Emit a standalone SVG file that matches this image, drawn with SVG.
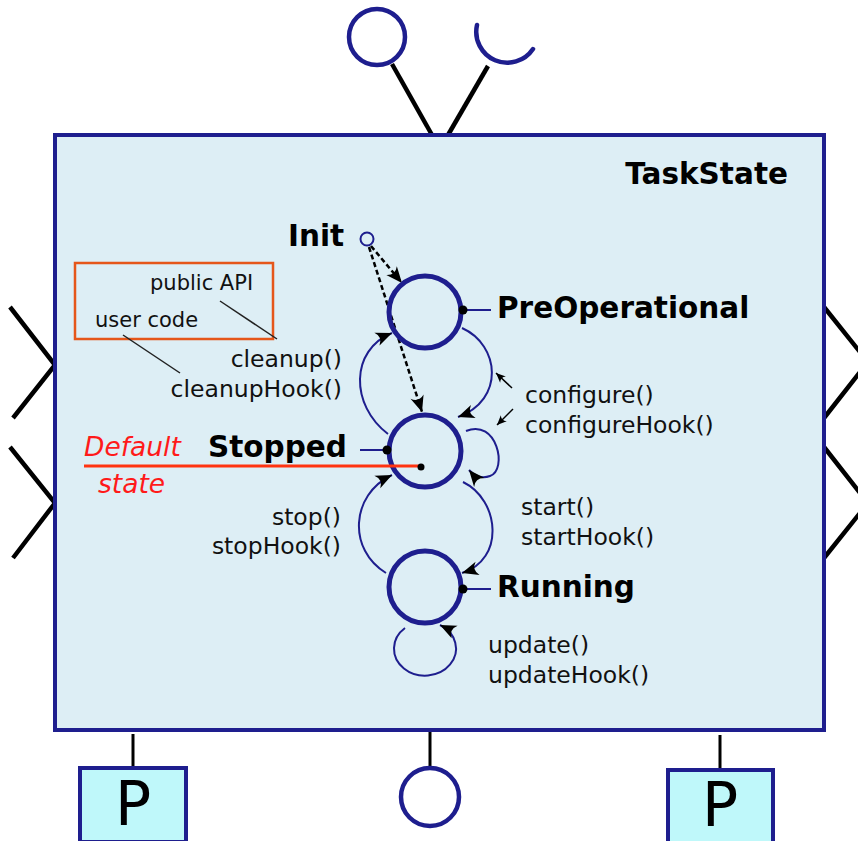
<svg xmlns="http://www.w3.org/2000/svg" width="858" height="841" viewBox="0 0 858 841">
<style>
.port{fill:none;stroke:#000;stroke-width:4.5}
.state{fill:none;stroke:#1e1e8e;stroke-width:5}
.tr{fill:none;stroke:#1e1e8e;stroke-width:2}
.b{font-family:"DejaVu Sans",Verdana,sans-serif;font-weight:bold;font-size:29.5px;fill:#000}
.r{font-family:"DejaVu Sans",Verdana,sans-serif;font-size:23.5px;fill:#111}
.s{font-family:"DejaVu Sans",Verdana,sans-serif;font-size:21px;fill:#111}
.red{font-family:"DejaVu Sans",Verdana,sans-serif;font-style:italic;font-size:26.5px;fill:#ff1a1a}
.P{font-family:"DejaVu Sans",Verdana,sans-serif;font-size:60px;fill:#000}
</style>
<defs>
<marker id="ah" markerUnits="userSpaceOnUse" markerWidth="20" markerHeight="20" viewBox="-14 -7 16 14" refX="0" refY="0" orient="auto" overflow="visible"><path d="M0,0 L-13,-5.5 Q-8,0 -13,5.5 Z" fill="#000"/></marker>
<marker id="sa" markerUnits="userSpaceOnUse" markerWidth="12" markerHeight="12" viewBox="-9 -5 10 10" refX="0" refY="0" orient="auto" overflow="visible"><path d="M0,0 L-8,-3.5 Q-5,0 -8,3.5 Z" fill="#000"/></marker>
</defs>
<g id="ports">
<line class="port" x1="392" y1="64" x2="432" y2="135"/>
<line class="port" x1="488" y1="66" x2="448" y2="135"/>
<circle cx="377" cy="37" r="28" fill="none" stroke="#1e1e8e" stroke-width="4.5"/>
<path d="M477,25 A31 31 0 0 0 533,49" fill="none" stroke="#1e1e8e" stroke-width="4.5" stroke-linecap="round"/>
<polyline class="port" points="10,307 55,365 13,418"/>
<polyline class="port" points="10,447 55,503 13,558"/>
<polyline class="port" points="824,307 868,362 824,418"/>
<polyline class="port" points="824,447 868,503 824,558"/>
<line x1="133" y1="734" x2="133" y2="767" stroke="#000" stroke-width="3"/>
<line x1="430" y1="731" x2="430" y2="768" stroke="#000" stroke-width="3"/>
<line x1="720" y1="735" x2="720" y2="770" stroke="#000" stroke-width="3"/>
<rect x="80" y="768" width="106" height="74" fill="#bff8fa" stroke="#1e1e8e" stroke-width="4"/>
<text class="P" x="133" y="825" text-anchor="middle">P</text>
<circle cx="430" cy="797" r="29" fill="none" stroke="#1e1e8e" stroke-width="4.5"/>
<rect x="668" y="770" width="105" height="74" fill="#bff8fa" stroke="#1e1e8e" stroke-width="4"/>
<text class="P" x="720" y="826" text-anchor="middle">P</text>
</g>
<g id="taskstate">
<rect x="55" y="135" width="769" height="595" fill="#ddeef5" stroke="#1e1e8e" stroke-width="4"/>
<text class="b" x="788" y="184" text-anchor="end">TaskState</text>
</g>
<g id="legend">
<rect x="75" y="263" width="198" height="76" fill="none" stroke="#e5561a" stroke-width="2.5"/>
<text class="s" x="150" y="290">public API</text>
<text class="s" x="95" y="327">user code</text>
<line x1="220" y1="301" x2="277" y2="339" stroke="#222" stroke-width="1.5"/>
<line x1="123" y1="335" x2="180" y2="373" stroke="#222" stroke-width="1.5"/>
</g>
<g id="connectors">
<path class="tr" d="M388,434 C350,405 350,350 392,333" marker-end="url(#ah)"/>
<path class="tr" d="M462,328 C500,345 505,400 458,417" marker-end="url(#ah)"/>
<path class="tr" d="M466,431 C497,418 508,470 490,476 C482,479 474,476 469,470" marker-end="url(#ah)"/>
<path class="tr" d="M463,482 C500,500 505,560 462,573" marker-end="url(#ah)"/>
<path class="tr" d="M386,573 C348,550 350,495 392,475" marker-end="url(#ah)"/>
<path class="tr" d="M405,628 A31 27 0 1 0 440,625" marker-end="url(#ah)"/>
<line x1="371" y1="246" x2="402" y2="283" stroke="#000" stroke-width="2.5" stroke-dasharray="5,3" marker-end="url(#ah)"/>
<line x1="369" y1="247" x2="422" y2="412" stroke="#000" stroke-width="2.5" stroke-dasharray="5,3" marker-end="url(#ah)"/>
<line x1="512" y1="388" x2="496" y2="373" stroke="#000" stroke-width="1.5" marker-end="url(#sa)"/>
<line x1="513" y1="409" x2="497" y2="425" stroke="#000" stroke-width="1.5" marker-end="url(#sa)"/>
</g>
<g id="init">
<circle cx="367" cy="239" r="6.5" fill="none" stroke="#1e1e8e" stroke-width="2"/>
<text class="b" x="288" y="246">Init</text>
</g>
<g id="preoperational">
<circle class="state" cx="425" cy="312" r="36"/>
<line x1="463" y1="310" x2="491" y2="310" stroke="#1e1e8e" stroke-width="2"/>
<circle cx="463" cy="310" r="4.5" fill="#000"/>
<text class="b" x="497" y="318">PreOperational</text>
</g>
<g id="stopped">
<circle class="state" cx="425" cy="451" r="36"/>
<line x1="360" y1="450" x2="387" y2="450" stroke="#1e1e8e" stroke-width="2"/>
<circle cx="387" cy="450" r="4.5" fill="#000"/>
<text class="b" x="208" y="457">Stopped</text>
</g>
<g id="running">
<circle class="state" cx="425" cy="587" r="36"/>
<line x1="463" y1="589" x2="491" y2="589" stroke="#1e1e8e" stroke-width="2"/>
<circle cx="463" cy="589" r="4.5" fill="#000"/>
<text class="b" x="497" y="597">Running</text>
</g>
<g id="default">
<line x1="84" y1="466" x2="421" y2="466" stroke="#ff3311" stroke-width="3"/>
<circle cx="421" cy="467" r="3.5" fill="#000"/>
<text class="red" x="84" y="456">Default</text>
<text class="red" x="98" y="493">state</text>
</g>
<g id="labels">
<text class="r" x="342" y="367" text-anchor="end">cleanup()</text>
<text class="r" x="342" y="397" text-anchor="end">cleanupHook()</text>
<text class="r" x="525" y="403">configure()</text>
<text class="r" x="525" y="433">configureHook()</text>
<text class="r" x="521" y="515">start()</text>
<text class="r" x="521" y="545">startHook()</text>
<text class="r" x="341" y="525" text-anchor="end">stop()</text>
<text class="r" x="341" y="554" text-anchor="end">stopHook()</text>
<text class="r" x="488" y="653">update()</text>
<text class="r" x="488" y="683">updateHook()</text>
</g>
</svg>
